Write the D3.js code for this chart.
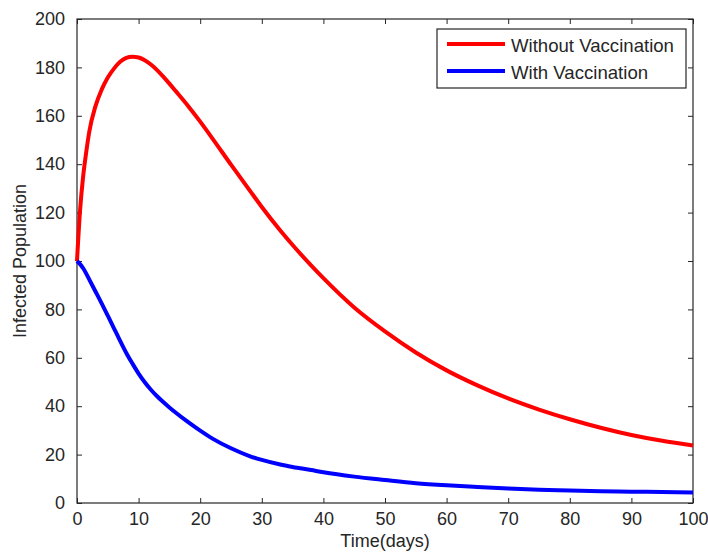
<!DOCTYPE html>
<html>
<head>
<meta charset="utf-8">
<script src="https://cdn.jsdelivr.net/npm/d3@7"></script>
<style>
  body { margin: 0; background: #fff; }
  svg text { font-family: "Liberation Sans", Arial, sans-serif; fill: #262626; }
</style>
</head>
<body>
<svg id="viz" width="708" height="556"></svg>
<script>
// Data
const days = [0, 0.5, 1, 1.5, 2, 3, 4, 5, 6, 7, 8, 9, 10, 11, 12, 13, 14, 15, 16, 18, 20, 22, 25, 28, 30, 33, 35, 38, 40, 45, 50, 55, 60, 65, 70, 75, 80, 85, 90, 95, 100]
const withoutVacc = [100, 121, 135, 145, 153.5, 164, 170.8, 175.8, 179.5, 182.3, 183.9, 184.4, 184.1, 183, 181.2, 178.9, 176.2, 173.3, 170.3, 164.2, 157.6, 150.6, 139.8, 129.3, 122.3, 112.6, 106.6, 98.2, 92.9, 80.8, 70.9, 62.2, 54.8, 48.6, 43.2, 38.6, 34.6, 31.1, 28.1, 25.7, 23.8]
const withVacc = [100, 98.7, 97, 94.8, 92.3, 87.4, 82.5, 77.4, 72.2, 67, 62, 57.6, 53.5, 49.9, 46.8, 44.1, 41.7, 39.5, 37.4, 33.5, 29.9, 26.6, 22.6, 19.4, 17.8, 15.9, 14.9, 13.6, 12.7, 10.9, 9.5, 8.2, 7.3, 6.6, 6, 5.5, 5.2, 4.9, 4.7, 4.5, 4.3]
const xTicks = [0, 10, 20, 30, 40, 50, 60, 70, 80, 90, 100]
const yTicks = [0, 20, 40, 60, 80, 100, 120, 140, 160, 180, 200]
const seriesNames = ["Without Vaccination", "With Vaccination"]
const seriesColors = ["#ff0000", "#0000ff"]

// Margins
const width = 708, height = 556
const margin = { top: 19, right: 15, bottom: 53, left: 77 }

const svg = d3.select("#viz")

const x = d3.scaleLinear()
    .domain([0, 100])
    .range([margin.left, width - margin.right])
const y = d3.scaleLinear()
    .domain([0, 200])
    .range([height - margin.bottom, margin.top])

// Axes, ticks point inward like matlab
const axisCol = "#262626"
const styleAxis = g => {
    g.select(".domain").remove()
    g.selectAll(".tick line").attr("stroke", axisCol)
    g.selectAll(".tick text").attr("font-size", 18).attr("fill", axisCol)
}

svg.append("g")
    .attr("transform", `translate(0,${y(0)})`)
    .call(d3.axisBottom(x).tickValues(xTicks).tickSize(-5).tickPadding(10))
    .call(styleAxis)
    .call(g => g.selectAll(".tick text").attr("dy", "0.71em").attr("y", 9))

svg.append("g")
    .attr("transform", `translate(0,${y(200)})`)
    .call(d3.axisTop(x).tickValues(xTicks).tickSize(-5).tickFormat(""))
    .call(styleAxis)

svg.append("g")
    .attr("transform", `translate(${x(0)},0)`)
    .call(d3.axisLeft(y).tickValues(yTicks).tickSize(-5).tickPadding(12))
    .call(styleAxis)

svg.append("g")
    .attr("transform", `translate(${x(100)},0)`)
    .call(d3.axisRight(y).tickValues(yTicks).tickSize(-5).tickFormat(""))
    .call(styleAxis)

// box
svg.append("rect")
    .attr("x", x(0)).attr("y", y(200))
    .attr("width", x(100) - x(0)).attr("height", y(0) - y(200))
    .attr("fill", "none").attr("stroke", axisCol).attr("stroke-width", 1.2)

// Lines
const line = d3.line()
    .x(d => x(d[0]))
    .y(d => y(d[1]))
    .curve(d3.curveMonotoneX)

const series = [withoutVacc, withVacc]
series.forEach((vals, i) => {
    svg.append("path")
        .datum(days.map((d, j) => [d, vals[j]]))
        .attr("fill", "none")
        .attr("stroke", seriesColors[i])
        .attr("stroke-width", 4)
        .attr("d", line)
})

// Legend
const lg = svg.append("g").attr("transform", "translate(437,29)")
lg.append("rect")
    .attr("width", 249).attr("height", 59)
    .attr("fill", "#fff").attr("stroke", axisCol).attr("stroke-width", 1.2)
seriesNames.forEach((name, i) => {
    const yy = 15 + i * 27
    lg.append("line")
        .attr("x1", 10).attr("x2", 68)
        .attr("y1", yy).attr("y2", yy)
        .attr("stroke", seriesColors[i]).attr("stroke-width", 4)
    lg.append("text")
        .attr("x", 74).attr("y", yy + 8)
        .attr("font-size", 18.6)
        .text(name)
})

// x-axis label
svg.append("text")
    .attr("x", (x(0) + x(100)) / 2)
    .attr("y", 547)
    .attr("text-anchor", "middle")
    .attr("font-size", 18)
    .text("Time(days)")

// y-axis label
svg.append("text")
    .attr("transform", `translate(26,${(y(0) + y(200)) / 2}) rotate(-90)`)
    .attr("text-anchor", "middle")
    .attr("font-size", 18)
    .text("Infected Population")
</script>
</body>
</html>
